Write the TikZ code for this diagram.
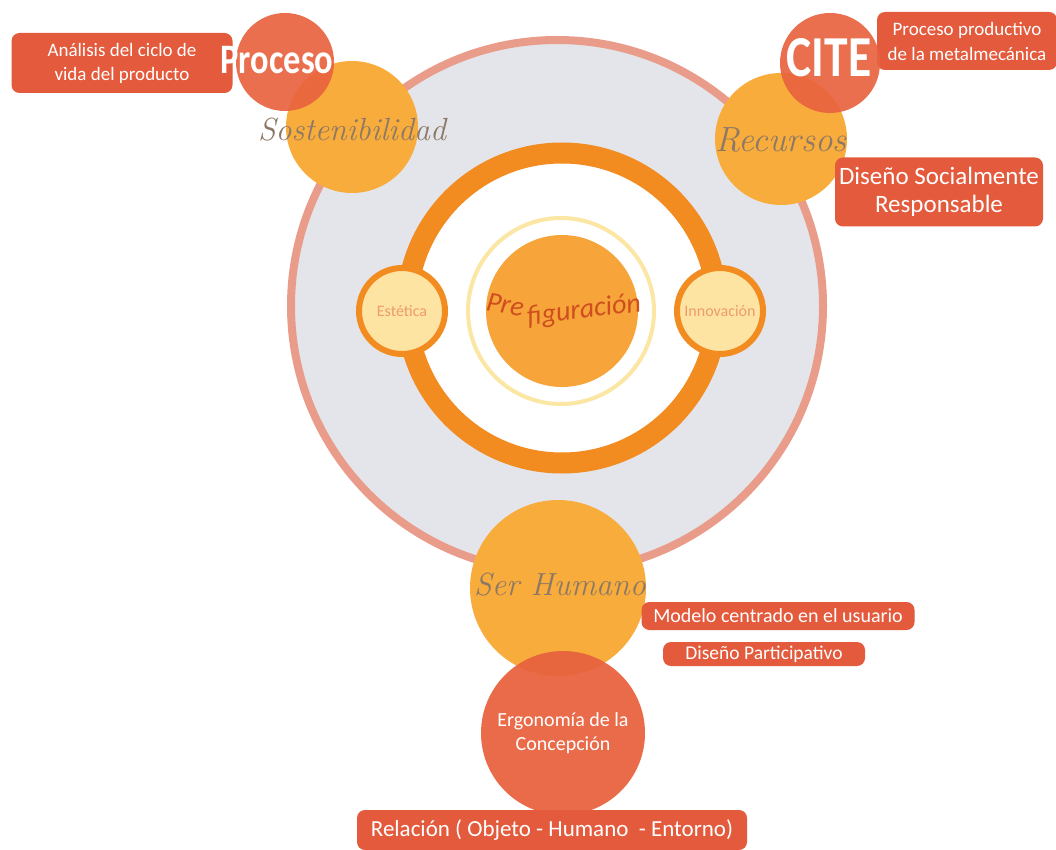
\documentclass[tikz,border=0pt]{standalone}
\usepackage{fontspec}
\usepackage{graphicx}
\newfontfamily\calib{Carlito}
\definecolor{ringgray}{HTML}{E4E5EA}
\definecolor{salmon}{HTML}{EA9C8A}
\definecolor{ringorange}{HTML}{F28C20}
\definecolor{halo}{HTML}{FBE6A4}
\definecolor{core}{HTML}{F7A53B}
\definecolor{pale}{HTML}{FDE4A3}
\definecolor{sunorange}{HTML}{F8AC3B}
\definecolor{discred}{HTML}{E8633F}
\definecolor{boxred}{HTML}{E35A3C}
\definecolor{handgray}{HTML}{8C7866}
\definecolor{prefig}{HTML}{CF4E1D}
\definecolor{softtext}{HTML}{EE9B6E}
\begin{document}
\begin{tikzpicture}[x=1pt,y=-1pt,
  disc/.style={circle,inner sep=0pt,minimum size=#1},
  redbox/.style={rounded corners=8pt,fill=boxred,text=white,align=center,inner sep=0pt},
  hand/.style={text=handgray,font=\itshape\fontsize{#1}{#1}\selectfont},
  bigword/.style={text=white,font=\calib\bfseries\fontsize{#1}{#1}\selectfont},
  small/.style={text=softtext,font=\calib\fontsize{16}{16}\selectfont},
  prefword/.style={text=prefig,font=\calib\itshape\fontsize{28}{28}\selectfont,inner sep=0pt}]
\useasboundingbox (0,0) rectangle (1056,850);
\node[disc=532pt,fill=ringgray,draw=salmon,line width=8pt] (outer) at (557,306) {};
\node[disc=310pt,fill=white,draw=ringorange,line width=21pt] (ring) at (562,308) {};
\node[disc=186pt,draw=halo,line width=4pt] (halo) at (561,311) {};
\node[disc=152pt,fill=core] (core) at (562,311) {};
\node[prefword,rotate=-10,anchor=east] (pre) at (524,308) {Pre};
\node[prefword,rotate=7,anchor=west] (figuracion) at (527,318) {figuración};
\node[disc=86pt,fill=pale,draw=ringorange,line width=6pt,small] (estetica) at (402,311) {Estética};
\node[disc=86pt,fill=pale,draw=ringorange,line width=6pt,small] (innovacion) at (720,311) {Innovación};
\node[disc=132pt,fill=sunorange] (sost) at (352,127) {};
\node[redbox,minimum width=221pt,minimum height=60pt,font=\calib\fontsize{19}{24}\selectfont] (analisis) at (122,63) {Análisis del ciclo de\\vida del producto};
\node[disc=98pt,fill=discred,fill opacity=.92] (proceso) at (285,62) {};
\node[bigword=42] (procesotext) at (277,60) {\scalebox{0.82}[1]{Proceso}};
\node[hand=32] (sosttext) at (352,130) {Sostenibilidad};
\node[disc=132pt,fill=sunorange] (recursos) at (781,139) {};
\node[redbox,minimum width=180pt,minimum height=58pt,font=\calib\fontsize{19}{25}\selectfont] (metal) at (967,41) {Proceso productivo\\de la metalmecánica};
\node[disc=100pt,fill=discred,fill opacity=.92] (cite) at (830,63) {};
\node[bigword=58] (citetext) at (829,58) {\scalebox{0.82}[1]{CITE}};
\node[hand=35] (recursostext) at (781,140) {Recursos};
\node[redbox,minimum width=208pt,minimum height=69pt,font=\calib\fontsize{25}{28}\selectfont] (social) at (939,192) {Diseño Socialmente\\Responsable};
\node[disc=176pt,fill=sunorange] (serhumano) at (558,588) {};
\node[disc=164pt,fill=discred,fill opacity=.95,text=white,text opacity=1,align=center,font=\calib\fontsize{20}{24}\selectfont] (ergo) at (563,733) {Ergonomía de la\\Concepción};
\node[hand=32] (serhumanotext) at (560,585) {Ser Humano};
\node[redbox,minimum width=273pt,minimum height=28pt,font=\calib\fontsize{20}{20}\selectfont] (usuario) at (778,616) {Modelo centrado en el usuario};
\node[redbox,minimum width=202pt,minimum height=24pt,font=\calib\fontsize{19.5}{19.5}\selectfont] (participativo) at (764,654) {Diseño Participativo};
\node[redbox,minimum width=390pt,minimum height=40pt,font=\calib\fontsize{23}{23}\selectfont] (relacion) at (552,830) {Relación ( Objeto - Humano~ - Entorno)};
\end{tikzpicture}
\end{document}
